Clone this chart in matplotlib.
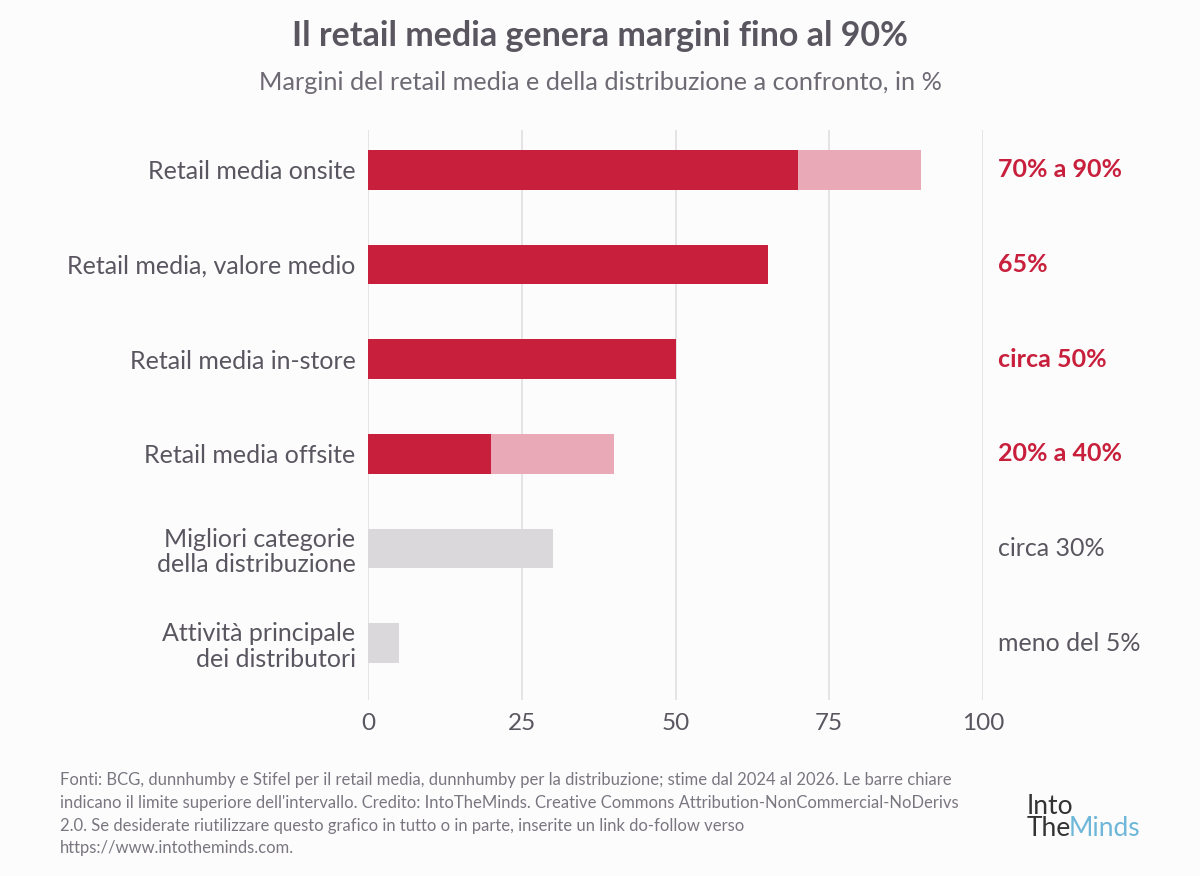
import matplotlib.pyplot as plt

categories = ["Retail media onsite", "Retail media, valore medio", "Retail media in-store",
              "Retail media offsite", "Migliori categorie\ndella distribuzione",
              "Attività principale\ndei distributori"]
low_values = [70, 65, 50, 20, 30, 5]
high_values = [90, 65, 50, 40, 30, 5]
is_retail_media = [True, True, True, True, False, False]
value_labels = ["70% a 90%", "65%", "circa 50%", "20% a 40%", "circa 30%", "meno del 5%"]
x_ticks = [0, 25, 50, 75, 100]

RED = "#c8203c"
PINK = "#e9a9b6"
GREY = "#dbd8db"
TEXT = "#5a5660"
BG = "#fdfcfd"

plt.rcParams['font.family'] = ['Lato', 'DejaVu Sans']

fig = plt.figure(figsize=(12, 8.76), dpi=100, facecolor=BG)
ax = fig.add_axes([368 / 1200, 1 - 700 / 876, 615 / 1200, 570 / 876])
ax.set_facecolor(BG)

ypos = list(range(len(categories)))
for y, lo, hi, rm in zip(ypos, low_values, high_values, is_retail_media):
    if rm:
        if hi > lo:
            ax.barh(y, hi, height=0.42, color=PINK, zorder=2)
        ax.barh(y, lo, height=0.42, color=RED, zorder=3)
    else:
        ax.barh(y, lo, height=0.42, color=GREY, zorder=3)

for y, lab, rm in zip(ypos, value_labels, is_retail_media):
    ax.text(102.4, y, lab, va='center', ha='left', fontsize=18,
            color=RED if rm else TEXT, fontweight='bold' if rm else 'normal', clip_on=False)

ax.set_xlim(0, 100)
ax.set_ylim(5.6, -0.42)
ax.set_xticks(x_ticks)
ax.set_xticklabels([str(t) for t in x_ticks], fontsize=17.5, color=TEXT)
ax.set_yticks(ypos)
ax.set_yticklabels(categories, fontsize=18, color=TEXT, linespacing=1.15)
ax.tick_params(length=0)
ax.tick_params(axis='y', pad=9)
ax.tick_params(axis='x', pad=9)
ax.grid(axis='x', color="#e2dfe3", linewidth=1.2, zorder=0)
for s in ax.spines.values():
    s.set_visible(False)

fig.text(0.5, 1 - 36 / 876, "Il retail media genera margini fino al 90%", ha='center', va='center',
         fontsize=24.5, fontweight='bold', color=TEXT)
fig.text(0.5, 1 - 82 / 876, "Margini del retail media e della distribuzione a confronto, in %",
         ha='center', va='center', fontsize=18.2, color="#6e6a73")

footer = ("Fonti: BCG, dunnhumby e Stifel per il retail media, dunnhumby per la distribuzione; stime dal 2024 al 2026. Le barre chiare\n"
          "indicano il limite superiore dell'intervallo. Credito: IntoTheMinds. Creative Commons Attribution-NonCommercial-NoDerivs\n"
          "2.0. Se desiderate riutilizzare questo grafico in tutto o in parte, inserite un link do-follow verso\n"
          "https://www.intotheminds.com.")
fig.text(60 / 1200, 1 - 772 / 876, footer, ha='left', va='top', fontsize=12, color="#7a7680",
         linespacing=1.52)

# logo as text
fig.text(1027 / 1200, 1 - 806 / 876, "Into", ha='left', va='center', fontsize=19, color="#333333")
t_the = fig.text(1027 / 1200, 1 - 829 / 876, "The", ha='left', va='center', fontsize=19, color="#333333")
fig.canvas.draw()
bb = t_the.get_window_extent()
fig.text(bb.x1 / 1200 - 0.002, 1 - 829 / 876, "Minds", ha='left', va='center', fontsize=19,
         color="#6fb7d9")

fig.savefig("out.png", dpi=100, facecolor=BG)
